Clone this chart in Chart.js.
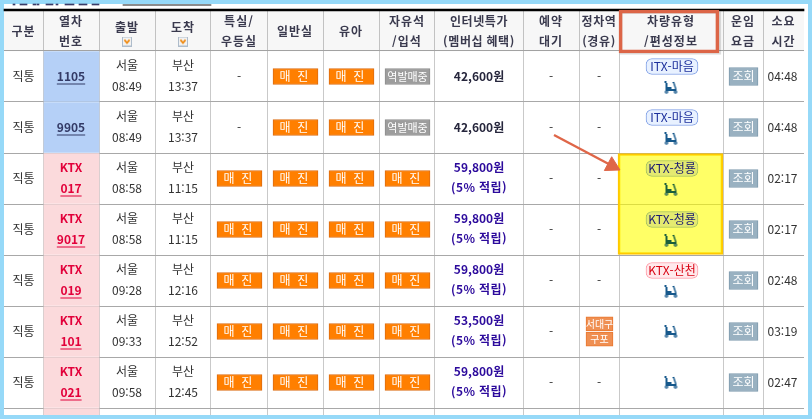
<!DOCTYPE html>
<html lang="ko"><head><meta charset="utf-8">
<script src="https://cdn.jsdelivr.net/npm/chart.js@4"></script>
<style>html,body{margin:0;padding:0;background:#96d9f8;overflow:hidden}canvas{display:block}</style>
</head><body><canvas id="c" width="812" height="419"></canvas>
<script>
// ---------- table data ----------
const headers = [["구분"],["열차","번호"],["출발"],["도착"],["특실/","우등실"],["일반실"],["유아"],["자유석","/입석"],["인터넷특가","(멤버십 혜택)"],["예약","대기"],["정차역","(경유)"],["차량유형","/편성정보"],["운임","요금"],["소요","시간"]];
const serviceTypes = ["직통","직통","직통","직통","직통","직통","직통"];
const trainBrands = ["","","KTX","KTX","KTX","KTX","KTX"];
const trainNumbers = ["1105","9905","017","9017","019","101","021"];
const origins = ["서울","서울","서울","서울","서울","서울","서울"];
const departTimes = ["08:49","08:49","08:58","08:58","09:28","09:33","09:58"];
const destinations = ["부산","부산","부산","부산","부산","부산","부산"];
const arriveTimes = ["13:37","13:37","11:15","11:15","12:16","12:52","12:45"];
const firstClass = ["-","-","매 진","매 진","매 진","매 진","매 진"];
const standardClass = ["매 진","매 진","매 진","매 진","매 진","매 진","매 진"];
const infantClass = ["매 진","매 진","매 진","매 진","매 진","매 진","매 진"];
const freeSeats = ["역발매중","역발매중","매 진","매 진","매 진","매 진","매 진"];
const prices = ["42,600원","42,600원","59,800원","59,800원","59,800원","53,500원","59,800원"];
const mileage = ["","","(5% 적립)","(5% 적립)","(5% 적립)","(5% 적립)","(5% 적립)"];
const waitlist = ["-","-","-","-","-","-","-"];
const stops = [["-"],["-"],["-"],["-"],["-"],["서대구","구포"],["-"]];
const vehicleTypes = ["ITX-마음","ITX-마음","KTX-청룡","KTX-청룡","KTX-산천","",""];
const fareLabels = ["조회","조회","조회","조회","조회","조회","조회"];
const durations = ["04:48","04:48","02:17","02:17","02:48","03:19","02:47"];
const rowIndex = serviceTypes.map((_, i) => i);

// ---------- layout (separate from data) ----------
const colEdges = [4,43,99,155,211,267,323,379,435,523,579,619,723,763,804];
const ROW = 51;                              // px per table row
const rowOf = px => (px - ROW) / ROW;        // y-axis value for a px offset on the table
const mid = c => (colEdges[c] + colEdges[c+1]) / 2;
const yAt = (r, dy=0) => r + 0.5 + dy / ROW;
const F = '"Noto Sans CJK KR","Noto Sans",sans-serif';

function barSet(label, pts, bg, border, thick, extra={}) {
  return Object.assign({type:'bar',label,indexAxis:'y',grouped:false,data:pts,backgroundColor:bg,borderColor:border,
    borderWidth:border==='transparent'?0:1,borderSkipped:false,barThickness:thick,parsing:{xAxisKey:'x',yAxisKey:'y'}},extra);
}
function buttonPts(col, values, match, inset=[6,5]) {
  return rowIndex.filter(r => match(values[r])).map(r => ({x:[colEdges[col]+inset[0],colEdges[col+1]-inset[1]],y:yAt(r)}));
}
function scooter(color) {
  const c = document.createElement('canvas'); c.width = 15; c.height = 13;
  const g = c.getContext('2d'); g.fillStyle = color; g.strokeStyle = color;
  g.fillRect(1,0,2,2); g.fillRect(2,2,2,6); g.fillRect(4,6,4,2); g.fillRect(2,8,11,2);
  g.fillRect(9,1,2,1); g.lineWidth = 1.4; g.beginPath(); g.moveTo(10,1); g.lineTo(12.5,8.5); g.stroke();
  g.beginPath(); g.arc(3,11,1.8,0,7); g.arc(12,11,1.8,0,7); g.fill();
  g.fillStyle='#fff'; g.fillRect(2.5,10.5,1,1); g.fillRect(11.5,10.5,1,1);
  return c;
}
function sortIcon() {
  const c = document.createElement('canvas'); c.width = 10; c.height = 10;
  const g = c.getContext('2d'); g.fillStyle='#f2f2f2'; g.fillRect(0,0,10,10);
  g.strokeStyle='#aebccb'; g.lineWidth=1; g.strokeRect(.5,.5,9,9);
  g.strokeStyle='#f08a10'; g.lineWidth=1.7; g.beginPath(); g.moveTo(2.4,3.4); g.lineTo(5,6.4); g.lineTo(7.6,3.4); g.stroke();
  return c;
}

const pillStyles = {"ITX-마음":["#e8f1ff","#7f9fe6","#1c2f9c"],"KTX-청룡":["#e4ea70","#a4c060","#1a1a70"],"KTX-산천":["#ffe9ec","#ff9aa6","#d80010"]};
const pillRows = name => rowIndex.filter(r => vehicleTypes[r] === name).map(r => ({x:[mid(11)-25,mid(11)+27],y:yAt(r,-10)}));
const stopBadges = [];
rowIndex.forEach(r => { if (stops[r].length > 1) stops[r].forEach((s,i) => stopBadges.push({x:[586,613],y:yAt(r,(i-0.5)*15.4)})); });

const datasets = [
  {type:'scatter',label:'arrow head',data:[{x:612,y:2.25}],pointStyle:'triangle',pointRadius:9,rotation:118,backgroundColor:'#df6648',borderColor:'#df6648',order:1,clip:false},
  {type:'line',label:'arrow',data:[{x:554,y:rowOf(135)},{x:612,y:2.25}],borderColor:'#df6648',borderWidth:2.4,pointRadius:0,order:1,fill:false,tension:0},
  {type:'scatter',label:'wheelchair',data:rowIndex.filter(r=>r<2||r>3).map(r=>({x:mid(11),y:yAt(r,vehicleTypes[r]?11:0)})),pointStyle:scooter('#17598c'),order:2},
  {type:'scatter',label:'wheelchair on highlight',data:[2,3].map(r=>({x:mid(11),y:yAt(r,11)})),pointStyle:scooter('#1c5f3c'),order:2},
  {type:'scatter',label:'sort',data:[{x:mid(2),y:rowOf(41.5)},{x:mid(3),y:rowOf(41.5)}],pointStyle:sortIcon(),order:2},
  barSet('fare',buttonPts(12,fareLabels,v=>v,[6,5]),'#99b1c1','#7f9bae',18,{order:3}),
  barSet('stop badge',stopBadges,'#ef8f52','#e9772f',14,{order:3}),
  barSet('pill itx',pillRows("ITX-마음"),...pillStyles["ITX-마음"].slice(0,2),16,{order:3,borderRadius:6}),
  barSet('pill 청룡',pillRows("KTX-청룡"),...pillStyles["KTX-청룡"].slice(0,2),16,{order:3,borderRadius:6}),
  barSet('pill 산천',pillRows("KTX-산천"),...pillStyles["KTX-산천"].slice(0,2),16,{order:3,borderRadius:6}),
  barSet('first',buttonPts(4,firstClass,v=>v==='매 진'),'#ff7f00','#dc6c12',16,{order:3}),
  barSet('standard',buttonPts(5,standardClass,v=>v==='매 진'),'#ff7f00','#dc6c12',16,{order:3}),
  barSet('infant',buttonPts(6,infantClass,v=>v==='매 진'),'#ff7f00','#dc6c12',16,{order:3}),
  barSet('free',buttonPts(7,freeSeats,v=>v==='매 진'),'#ff7f00','#dc6c12',16,{order:3}),
  barSet('free gray',buttonPts(7,freeSeats,v=>v==='역발매중'),'#9d9d9d','#8e8e8e',16,{order:3}),
  barSet('highlight header',[{x:[619,719],y:rowOf(31.5)}],'transparent','#dc6547',43,{order:3,borderWidth:3,clip:false}),
  barSet('highlight shadow',[{x:[620,721],y:rowOf(33)}],'transparent','rgba(0,0,0,0.13)',43,{order:4,borderWidth:2,clip:false}),
  barSet('highlight cells',[{x:[618,723],y:3}],'rgba(255,255,0,0.6)','#ffc800',101,{order:5,borderWidth:2}),
  barSet('blue cells',rowIndex.filter(r=>r<2).map(r=>({x:[44,99],y:yAt(r)})),'#b5d0f7','transparent',50,{order:6}),
  barSet('pink cells',[...rowIndex.filter(r=>r>=2),7].map(r=>({x:[44,99],y:yAt(r)})),'#fbdadc','transparent',50,{order:6}),
  barSet('header',[{x:[4,804],y:rowOf(31)}],'rgba(0,0,0,0.03)','transparent',40,{order:6}),
  barSet('top rule',[{x:[4,804],y:rowOf(10)}],'#000','transparent',2,{order:6,clip:false}),
  barSet('cut-off link',[{x:[123,211],y:rowOf(5)}],'#666','transparent',1,{order:6,clip:false}),
  barSet('cut-off text',[[13,15],[20,27],[33,36],[37,39],[46,53],[56,58],[65,74],[79,87],[92,99]].map(p=>({x:p,y:rowOf(4.5)})),'#3a3a66','transparent',1,{order:6,clip:false})
];

const panel = {id:'panel',beforeDraw(ch){const g=ch.ctx;g.save();g.fillStyle='#96d9f8';g.fillRect(0,0,812,419);g.fillStyle='#fff';g.fillRect(4,4,804,411);g.restore();}};

const tableText = {id:'tableText',afterDatasetsDraw(ch){
  const g=ch.ctx,X=ch.scales.x,Y=ch.scales.y;
  function t(str,x,y,font,color,sp='0px',ul=false){
    if(!str)return; g.font=font;g.fillStyle=color;g.letterSpacing=sp;g.textAlign='center';g.textBaseline='middle';
    const px=X.getPixelForValue(x),py=Y.getPixelForValue(y);g.fillText(str,px,py);
    if(ul){const w=g.measureText(str).width;g.fillStyle=color;g.fillRect(px-w/2,py+7,w,1);}
  }
  const sold=(s,x,r)=>t(s,x,yAt(r),'12px '+F,s==='-'?'#333':'#fff',s==='-'?'0px':'2px');
  g.save();
  const H='bold 12px '+F,N='12px '+F,B='bold 12px '+F;
  const headerY=[[31],[21,41],[27],[27],[21,41],[31],[31],[21,41],[21,41],[21,41],[21,41],[21,41],[21,41],[21,41]];
  headers.forEach((h,c)=>h.forEach((s,i)=>t(s,mid(c),rowOf(headerY[c][i]),H,'#3a3a4e',c===8||c===10?'0.6px':'1px')));
  rowIndex.forEach(r=>{
    t(serviceTypes[r],mid(0),yAt(r),N,'#333');
    if(trainBrands[r]){t(trainBrands[r],mid(1),yAt(r,-11),B,'#e2003a');t(trainNumbers[r],mid(1),yAt(r,10),B,'#e2003a','0px',true);}
    else t(trainNumbers[r],mid(1),yAt(r),B,'#333a66','0px',true);
    t(origins[r],mid(2),yAt(r,-11),N,'#333');t(departTimes[r],mid(2),yAt(r,10),N,'#333');
    t(destinations[r],mid(3),yAt(r,-11),N,'#333');t(arriveTimes[r],mid(3),yAt(r,10),N,'#333');
    sold(firstClass[r],mid(4),r);sold(standardClass[r],mid(5),r);sold(infantClass[r],mid(6),r);
    if(freeSeats[r]==='매 진')sold(freeSeats[r],mid(7),r);else t(freeSeats[r],mid(7)+.5,yAt(r),'11px '+F,'#fff');
    if(mileage[r]){t(prices[r],mid(8),yAt(r,-11),B,'#2c0a9c');t(mileage[r],mid(8),yAt(r,9),B,'#2c0a9c','0.5px');}
    else t(prices[r],mid(8),yAt(r),B,'#26263c');
    t(waitlist[r],mid(9),yAt(r),N,'#333');
    if(stops[r].length>1)stops[r].forEach((s,i)=>t(s,599.5,yAt(r,(i-0.5)*15.4),'10px '+F,'#fff'));
    else t(stops[r][0],mid(10),yAt(r),N,'#333');
    const vt=vehicleTypes[r];if(vt)t(vt,mid(11)+1,yAt(r,-10),'12px '+F,pillStyles[vt][2]);
    t(fareLabels[r],743.5,yAt(r),'12px '+F,'#fff');
    t(durations[r],mid(13)-1,yAt(r),N,'#333');
  });
  g.restore();
}};

new Chart(document.getElementById('c'),{
  type:'scatter',
  data:{datasets},
  options:{
    responsive:false,animation:false,devicePixelRatio:1,events:[],
    layout:{autoPadding:false,padding:{left:4,right:8,top:11,bottom:4}},
    plugins:{legend:{display:false},tooltip:{enabled:false}},
    scales:{
      x:{type:'linear',offset:false,min:4,max:804,position:'bottom',afterBuildTicks:s=>{s.ticks=colEdges.slice(1,-1).map(v=>({value:v}));},
         ticks:{display:false},border:{display:false},grid:{offset:false,color:'#c9c9c9',lineWidth:1,drawTicks:false}},
      y:{type:'linear',offset:false,reverse:true,min:rowOf(11),max:rowOf(415),position:'left',afterBuildTicks:s=>{s.ticks=[0,1,2,3,4,5,6,7].map(v=>({value:v}));},
         ticks:{display:false},border:{display:false},grid:{offset:false,color:'#a8a8a8',lineWidth:1,drawTicks:false}}
    }
  },
  plugins:[panel,tableText]
});
</script></body></html>
